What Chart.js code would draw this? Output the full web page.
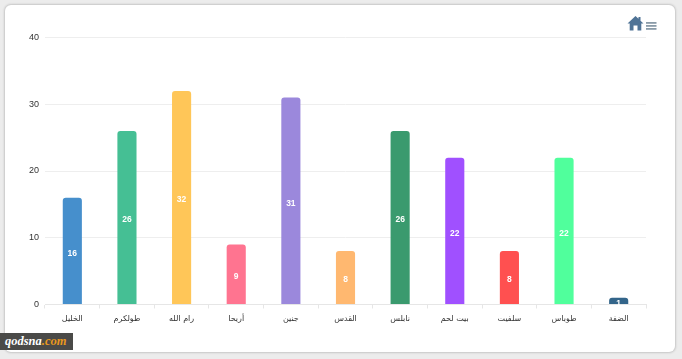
<!DOCTYPE html>
<html>
<head>
<meta charset="utf-8">
<title>chart</title>
<script src="https://cdn.jsdelivr.net/npm/chart.js@4"></script>
<style>
    html, body { margin: 0; padding: 0; width: 682px; height: 359px; overflow: hidden; background: #ececec; }
    #card { position: absolute; left: 5px; top: 5px; width: 670px; height: 347px; background: #fff; border-radius: 6px; box-shadow: 0 0 2px 1px #c6c6c6; }
    #chartBox { position: absolute; left: 0; top: 0; width: 682px; height: 359px; }
    #logo { position: absolute; left: 0; top: 333px; width: 73px; height: 17px; background: #4a4a48; color: #fff; font: italic bold 12.5px "Liberation Serif", serif; line-height: 17px; text-indent: 5px; }
    #logo span { color: #e8981e; }
    #icons { position: absolute; left: 627px; top: 15px; }
</style>
</head>
<body>
<div id="card"></div>
<div id="chartBox"><canvas id="barChart" width="682" height="359"></canvas></div>
<svg id="icons" width="32" height="17" viewBox="0 0 32 17">
    <path d="M8.5 1 L0.5 8.5 L2.7 8.5 L2.7 15.5 L6.5 15.5 L6.5 10.5 L10.5 10.5 L10.5 15.5 L14.3 15.5 L14.3 8.5 L16.5 8.5 L13.5 5.7 L13.5 2 L11.5 2 L11.5 3.8 Z" fill="#4f7396"/>
    <rect x="19" y="7" width="10.5" height="1.8" fill="#8a9ba8"/>
    <rect x="19" y="10" width="10.5" height="1.8" fill="#8a9ba8"/>
    <rect x="19" y="13" width="10.5" height="1.8" fill="#8a9ba8"/>
</svg>
<div id="logo">qodsna<span>.com</span></div>
<script>
const categories = ["الخليل", "طولكرم", "رام الله", "أريحا", "جنين", "القدس", "نابلس", "بيت لحم", "سلفيت", "طوباس", "الضفة"];
const values = [16, 26, 32, 9, 31, 8, 26, 22, 8, 22, 1];
const barColors = ["#468fcc", "#45bf94", "#ffc658", "#ff7490", "#9b88dc", "#ffb870", "#3a9a6e", "#a050ff", "#ff5050", "#50ff9c", "#33658a"];
const yTicks = [0, 10, 20, 30, 40];

// white number in the middle of each bar
const barLabels = {
    id: "barLabels",
    afterDatasetsDraw(chart) {
        const ctx = chart.ctx;
        const meta = chart.getDatasetMeta(0);
        ctx.save();
        ctx.fillStyle = "#fff";
        ctx.font = "bold 8.5px 'Liberation Sans', Arial, sans-serif";
        ctx.textAlign = "center";
        ctx.textBaseline = "middle";
        meta.data.forEach((bar, i) => {
            ctx.fillText(values[i], bar.x, (bar.y + bar.base) / 2 + 2.5);
        });
        ctx.restore();
    }
};

new Chart(document.getElementById("barChart"), {
    type: "bar",
    data: {
        labels: categories,
        datasets: [{
            data: values,
            backgroundColor: barColors,
            borderRadius: { topLeft: 3, topRight: 3 },
            borderSkipped: "bottom",
            categoryPercentage: 0.35,
            barPercentage: 1
        }]
    },
    options: {
        responsive: false,
        animation: false,
        layout: { padding: { left: 0, right: 36, top: 37.5, bottom: 0 } },
        plugins: { legend: { display: false }, tooltip: { enabled: false } },
        scales: {
            x: {
                afterFit(axis) { axis.height = 54.5; },
                grid: { drawOnChartArea: false, color: "#e6e6e6", tickLength: 4 },
                border: { color: "#e6e6e6" },
                ticks: { color: "#333", font: { family: "'DejaVu Sans', sans-serif", size: 8 }, padding: 6, maxRotation: 0, autoSkip: false }
            },
            y: {
                min: 0,
                max: 40,
                afterFit(axis) { axis.width = 45; },
                afterBuildTicks(axis) { axis.ticks = yTicks.map(v => ({ value: v })); },
                grid: { color: "#eeeeee", drawTicks: false },
                border: { display: false },
                ticks: { color: "#333", font: { family: "'Liberation Sans', Arial, sans-serif", size: 9 }, padding: 6 }
            }
        }
    },
    plugins: [barLabels]
});
</script>
</body>
</html>
